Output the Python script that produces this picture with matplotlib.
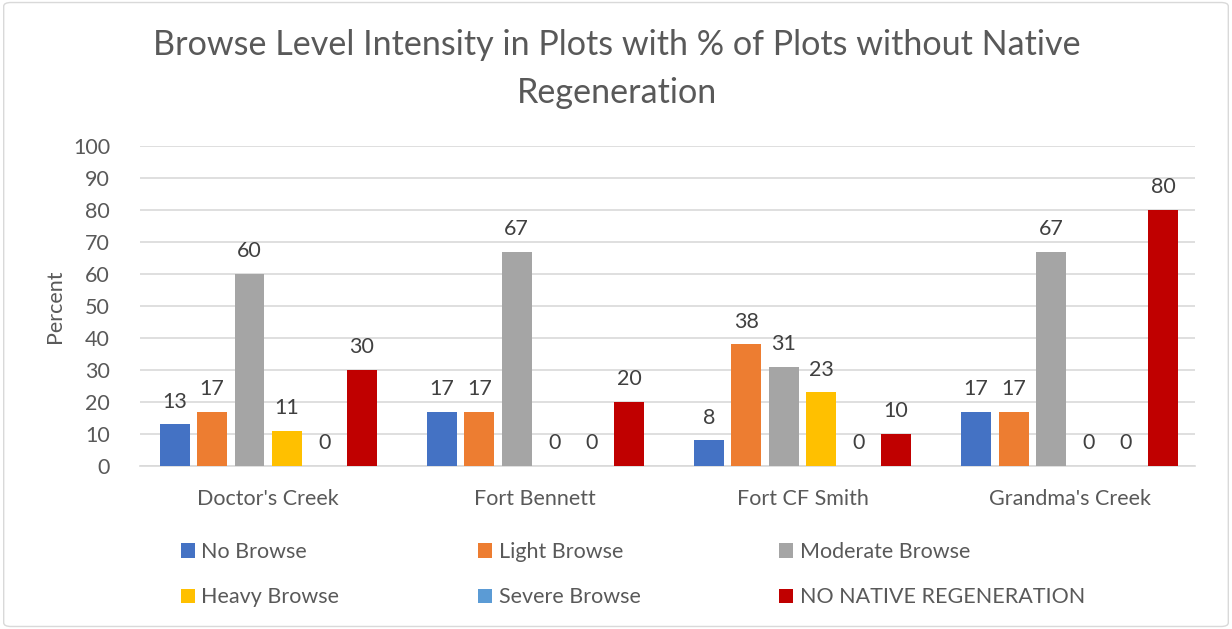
import numpy as np
import matplotlib.pyplot as plt
from matplotlib.patches import FancyBboxPatch

# Sites and browse-level series (percent of plots)
sites = ["Doctor's Creek", "Fort Bennett", "Fort CF Smith", "Grandma's Creek"]
series_names = ["No Browse", "Light Browse", "Moderate Browse",
                "Heavy Browse", "Severe Browse", "NO NATIVE REGENERATION"]
no_browse = [13, 17, 8, 17]
light_browse = [17, 17, 38, 17]
moderate_browse = [60, 67, 31, 67]
heavy_browse = [11, 0, 23, 0]
severe_browse = [0, 0, 0, 0]
no_native_regen = [30, 20, 10, 80]
colors = ["#4472C4", "#ED7D31", "#A5A5A5", "#FFC000", "#5B9BD5", "#C00000"]

all_series = [no_browse, light_browse, moderate_browse,
              heavy_browse, severe_browse, no_native_regen]

plt.rcParams['font.family'] = ['Lato', 'DejaVu Sans']
text_color = "#595959"
fs = 15.5

fig = plt.figure(figsize=(12.32, 6.29), dpi=100)
ax = fig.add_axes([0.1136, 0.259, 0.8566, 0.509])

x = np.arange(len(sites))
step = 0.14
width = 0.112
handles = []
for i, (vals, name, c) in enumerate(zip(all_series, series_names, colors)):
    pos = x + (i - 2.5) * step
    b = ax.bar(pos, vals, width, color=c, label=name, zorder=3)
    handles.append(b)
    for px, v in zip(pos, vals):
        ax.text(px, v + 4.0, f"{v}", ha='center', va='bottom',
                fontsize=fs, color="#404040")

ax.set_xlim(-0.48, 3.47)
ax.set_ylim(0, 100)
ax.set_yticks(range(0, 101, 10))
ax.set_xticks(x)
ax.set_xticklabels(sites)
ax.tick_params(axis='both', length=0, labelsize=fs, labelcolor=text_color)
ax.tick_params(axis='x', pad=16.5)
ax.tick_params(axis='y', pad=21.5)
ax.grid(axis='y', color="#D9D9D9", linewidth=1.2, zorder=0)
for s in ['top', 'right', 'left']:
    ax.spines[s].set_visible(False)
ax.spines['bottom'].set_color("#D9D9D9")
ax.spines['bottom'].set_linewidth(1.2)
ax.set_ylabel("Percent", fontsize=fs, color=text_color, labelpad=6)

fig.text(0.501, 0.891, "Browse Level Intensity in Plots with % of Plots without Native\nRegeneration",
         ha='center', va='center', fontsize=24.6, color=text_color, linespacing=1.62)

# legend laid out row by row, like the reference
order = [0, 3, 1, 4, 2, 5]
fig.legend(handles=[handles[k] for k in order],
           labels=[series_names[k] for k in order], ncol=3,
           loc='upper left', bbox_to_anchor=(0.131, 0.169), frameon=False,
           fontsize=fs, labelcolor=text_color, handlelength=0.65,
           handleheight=0.65, handletextpad=0.3, columnspacing=6.45,
           labelspacing=1.17)

# light chart border
border = FancyBboxPatch((0.003, 0.004), 0.994, 0.992,
                        boxstyle="round,pad=0,rounding_size=0.006",
                        transform=fig.transFigure, fill=False,
                        edgecolor="#D9D9D9", linewidth=1)
fig.patches.append(border)

fig.savefig("out.png", dpi=100)
